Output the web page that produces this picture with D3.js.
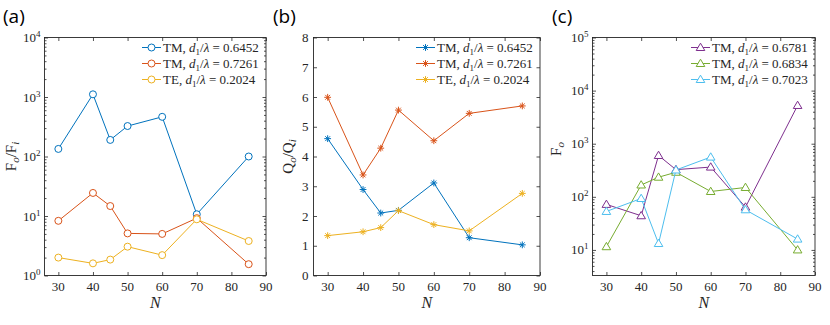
<!DOCTYPE html>
<html>
<head>
<meta charset="utf-8">
<script src="https://cdn.jsdelivr.net/npm/d3@7"></script>
<style>
  body { margin: 0; background: #fff; }
  svg text { fill: #262626; font-family: 'Liberation Serif', 'Times New Roman', serif; }
  svg text.tag { fill: #000; font-family: 'Open Sans', 'Noto Sans', sans-serif; }
</style>
</head>
<body>
<div id="chart"></div>
<script>
/* values */
const nValues = [30, 40, 45, 50, 60, 70, 85];
const xTicks = [30, 40, 50, 60, 70, 80, 90];

/* panel (a): Fo/Fi */
const foFiTM6452 = [134, 1110, 190, 325, 464, 10.7, 100];
const foFiTM7261 = [8.3, 24.4, 14.7, 5.1, 5.0, 9.2, 1.55];
const foFiTE2024 = [2.0, 1.6, 1.85, 3.05, 2.2, 8.8, 3.8];

/* panel (b): Qo/Qi */
const qoQiTM6452 = [4.6, 2.89, 2.1, 2.19, 3.11, 1.27, 1.03];
const qoQiTM7261 = [5.99, 3.38, 4.28, 5.56, 4.53, 5.45, 5.7];
const qoQiTE2024 = [1.34, 1.47, 1.61, 2.18, 1.71, 1.5, 2.76];

/* panel (c): Fo */
const foTM6781 = [72, 44, 600, 325, 363, 64, 5250];
const foTM6834 = [11.5, 167, 234, 290, 126, 150, 10];
const foTM7023 = [53, 93, 13.2, 320, 560, 57, 16];

const legendA = [['TM', '0.6452'], ['TM', '0.7261'], ['TE', '0.2024']];
const legendC = [['TM', '0.6781'], ['TM', '0.6834'], ['TM', '0.7023']];

const plotTop = 37.5;
const plotBottom = 275.5;
const axisColor = '#262626';

const svg = d3.select('#chart')
  .append('svg')
  .attr('width', 830)
  .attr('height', 325);

/* marker shapes, drawn around 0,0 */
function markerPath (kind) {
  if (kind === 'star') {
    const r = 3.4, d = 2.4;
    return 'M' + (-r) + ',0L' + r + ',0M0,' + (-r) + 'L0,' + r +
      'M' + (-d) + ',' + (-d) + 'L' + d + ',' + d + 'M' + (-d) + ',' + d + 'L' + d + ',' + (-d);
  }
  if (kind === 'tri') return 'M0,-4.3L4.3,3L-4.3,3Z';
  return d3.symbol().type(d3.symbolCircle).size(Math.PI * 3.5 * 3.5)();
}

function drawPanel (cfg) {
  const g = svg.append('g');
  const x = d3.scaleLinear().domain([26, 90]).range([cfg.left, cfg.right]);
  const y = (cfg.log ? d3.scaleLog() : d3.scaleLinear())
    .domain(cfg.yDomain)
    .range([plotBottom, plotTop]);

  /* ticks point inward on all four sides */
  const addAxis = function (axis, tx, ty, values, size) {
    const a = g.append('g')
      .attr('transform', 'translate(' + tx + ',' + ty + ')')
      .call(axis.tickValues(values).tickSize(-size).tickSizeOuter(0).tickFormat(''));
    a.select('.domain').remove();
    a.selectAll('line').attr('stroke', axisColor).attr('stroke-width', 0.8);
  };
  addAxis(d3.axisBottom(x), 0, plotBottom, xTicks, 3.5);
  addAxis(d3.axisTop(x), 0, plotTop, xTicks, 3.5);
  addAxis(d3.axisLeft(y), cfg.left, 0, cfg.yTicks, 3.5);
  addAxis(d3.axisRight(y), cfg.right, 0, cfg.yTicks, 3.5);
  if (cfg.log) {
    const minor = y.ticks().filter(function (v) { return Math.abs(Math.log10(v) % 1) > 1e-6; });
    addAxis(d3.axisLeft(y), cfg.left, 0, minor, 2);
    addAxis(d3.axisRight(y), cfg.right, 0, minor, 2);
  }

  g.append('rect')
    .attr('x', cfg.left)
    .attr('y', plotTop)
    .attr('width', cfg.right - cfg.left)
    .attr('height', plotBottom - plotTop)
    .attr('fill', 'none')
    .attr('stroke', axisColor)
    .attr('stroke-width', 0.9);

  /* tick labels */
  g.selectAll('.xlab')
    .data(xTicks)
    .enter()
    .append('text')
    .attr('x', function (d) { return x(d); })
    .attr('y', 290.5)
    .attr('text-anchor', 'middle')
    .style('font-size', '13px')
    .text(function (d) { return d; });

  const ylab = g.selectAll('.ylab')
    .data(cfg.yTicks)
    .enter()
    .append('text')
    .attr('x', cfg.left - (cfg.log ? 4 : 5))
    .attr('y', function (d) { return y(d) + 4.5; })
    .attr('text-anchor', 'end')
    .style('font-size', '13px');
  if (cfg.log) {
    ylab.append('tspan').text('10');
    ylab.append('tspan')
      .attr('dy', -5)
      .style('font-size', '9px')
      .text(function (d) { return Math.round(Math.log10(d)); });
  } else {
    ylab.text(function (d) { return d; });
  }

  /* axis titles */
  g.append('text')
    .attr('x', (cfg.left + cfg.right) / 2)
    .attr('y', 308)
    .attr('text-anchor', 'middle')
    .style('font-size', '16px')
    .style('font-style', 'italic')
    .text('N');

  const yt = g.append('text')
    .attr('transform', 'translate(' + cfg.yTitleX + ',' + cfg.yTitleY + ') rotate(-90)')
    .attr('text-anchor', 'middle')
    .style('font-size', '15px');
  cfg.yTitle.forEach(function (part) {
    const t = yt.append('tspan').text(part.t);
    if (part.sub) {
      t.attr('dy', 3).style('font-size', '11px').style('font-style', 'italic');
    } else if (part.back) {
      t.attr('dy', -3);
    }
  });

  g.append('text')
    .attr('class', 'tag')
    .attr('x', cfg.tagX)
    .attr('y', 23)
    .style('font-size', '19px')
    .text(cfg.tag);

  /* series */
  const line = d3.line()
    .x(function (d, i) { return x(nValues[i]); })
    .y(function (d) { return y(d); });

  cfg.series.forEach(function (s, k) {
    g.append('path')
      .attr('d', line(s.values))
      .attr('fill', 'none')
      .attr('stroke', s.color)
      .attr('stroke-width', 1);
    g.selectAll('.m' + k)
      .data(s.values)
      .enter()
      .append('path')
      .attr('transform', function (d, i) { return 'translate(' + x(nValues[i]) + ',' + y(d) + ')'; })
      .attr('d', markerPath(cfg.marker))
      .attr('fill', cfg.marker === 'star' ? 'none' : '#fff')
      .attr('stroke', s.color)
      .attr('stroke-width', 1);
  });

  /* legend */
  const lx = cfg.right - 124;
  cfg.series.forEach(function (s, k) {
    const ly = 47.5 + k * 16;
    g.append('line')
      .attr('x1', lx).attr('x2', lx + 19)
      .attr('y1', ly).attr('y2', ly)
      .attr('stroke', s.color)
      .attr('stroke-width', 1);
    g.append('path')
      .attr('transform', 'translate(' + (lx + 9.5) + ',' + ly + ')')
      .attr('d', markerPath(cfg.marker))
      .attr('fill', cfg.marker === 'star' ? 'none' : '#fff')
      .attr('stroke', s.color);
    const t = g.append('text')
      .attr('x', lx + 21)
      .attr('y', ly + 4.5)
      .style('font-size', '13px');
    t.append('tspan').text(s.label[0] + ', ');
    t.append('tspan').style('font-style', 'italic').text('d');
    t.append('tspan').attr('dy', 3).style('font-size', '9px').text('1');
    t.append('tspan').attr('dy', -3).text('/');
    t.append('tspan').style('font-style', 'italic').text('λ');
    t.append('tspan').text(' = ' + s.label[1]);
  });
}

const colorsAB = ['#0072BD', '#D95319', '#EDB120'];
const colorsC = ['#7E2F8E', '#77AC30', '#4DBEEE'];

drawPanel({
  tag: '(a)', tagX: 3, left: 44.5, right: 266, log: true,
  yDomain: [1, 1e4], yTicks: [1, 10, 100, 1000, 10000],
  yTitleX: 16, yTitleY: 156.5,
  yTitle: [{ t: 'F' }, { t: 'o', sub: true }, { t: '/F', back: true }, { t: 'i', sub: true }],
  marker: 'circle',
  series: [foFiTM6452, foFiTM7261, foFiTE2024].map(function (v, i) {
    return { values: v, color: colorsAB[i], label: legendA[i] };
  })
});

drawPanel({
  tag: '(b)', tagX: 273, left: 313.5, right: 540, log: false,
  yDomain: [0, 8], yTicks: [0, 1, 2, 3, 4, 5, 6, 7, 8],
  yTitleX: 293, yTitleY: 156.5,
  yTitle: [{ t: 'Q' }, { t: 'o', sub: true }, { t: '/Q', back: true }, { t: 'i', sub: true }],
  marker: 'star',
  series: [qoQiTM6452, qoQiTM7261, qoQiTE2024].map(function (v, i) {
    return { values: v, color: colorsAB[i], label: legendA[i] };
  })
});

drawPanel({
  tag: '(c)', tagX: 552, left: 592.5, right: 815, log: true,
  yDomain: [3.3, 1e5], yTicks: [10, 100, 1000, 10000, 100000],
  yTitleX: 561, yTitleY: 149,
  yTitle: [{ t: 'F' }, { t: 'o', sub: true }],
  marker: 'tri',
  series: [foTM6781, foTM6834, foTM7023].map(function (v, i) {
    return { values: v, color: colorsC[i], label: legendC[i] };
  })
});
</script>
</body>
</html>
